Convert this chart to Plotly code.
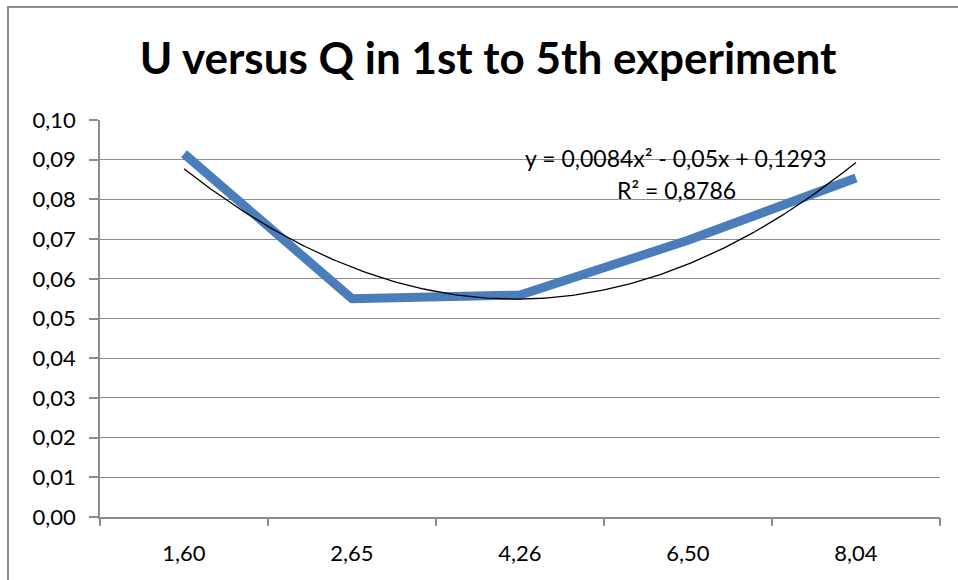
import plotly.graph_objects as go

# Flow rate categories (Q) and measured U values
q_labels = ["1,60", "2,65", "4,26", "6,50", "8,04"]
u_values = [0.0915, 0.0550, 0.0559, 0.0697, 0.0854]

# Polynomial trendline coefficients over category index x = 1..5
trend_a, trend_b, trend_c = 0.0084, -0.05, 0.1293
trend_eq = "y = 0,0084x² - 0,05x + 0,1293"
trend_r2 = "R² = 0,8786"

y_ticks = [i / 100 for i in range(11)]

idx = list(range(1, len(q_labels) + 1))
n_fine = 200
trend_x = [1 + 4 * k / (n_fine - 1) for k in range(n_fine)]
trend_y = [trend_a * x * x + trend_b * x + trend_c for x in trend_x]

FONT = "Lato"
GRID = "#8c8c8c"
TICK_SIZE = 22
NOTE_SIZE = 23

fig = go.Figure()
fig.add_trace(go.Scatter(
    x=idx, y=u_values, mode="lines",
    line=dict(color="#4A7EBB", width=9),
    showlegend=False, hoverinfo="skip",
))
fig.add_trace(go.Scatter(
    x=trend_x, y=trend_y, mode="lines",
    line=dict(color="#000000", width=1.3),
    showlegend=False, hoverinfo="skip",
))
# invisible trace on the boundary-tick axis
fig.add_trace(go.Scatter(x=[0.5, 5.5], y=[0, 0], xaxis="x2", mode="lines",
                         line=dict(width=0), showlegend=False, hoverinfo="skip"))

fig.update_layout(
    width=958, height=580,
    margin=dict(l=100, r=18, t=120, b=63),
    paper_bgcolor="white", plot_bgcolor="white",
    separators=",.",
    font=dict(family=FONT, color="#000000", size=TICK_SIZE),
    title=dict(text="<b>U versus Q in 1st to 5th experiment</b>",
               x=488 / 958, xref="container", xanchor="center",
               y=1 - 59 / 580, yanchor="middle", yref="container",
               font=dict(family=FONT, size=44, color="#000000")),
    xaxis=dict(range=[0.5, 5.5], tickvals=idx, ticktext=q_labels,
               showgrid=False, zeroline=False, ticks="",
               showline=True, linecolor=GRID, linewidth=1.5,
               tickfont=dict(size=TICK_SIZE), ticklabelstandoff=16),
    xaxis2=dict(range=[0.5, 5.5], overlaying="x", side="bottom",
                tickvals=[i + 0.5 for i in range(0, 6)],
                showticklabels=False, ticks="outside", ticklen=8,
                tickcolor=GRID, tickwidth=1.5, showgrid=False,
                zeroline=False, showline=False),
    yaxis=dict(range=[0, 0.1], tickvals=y_ticks, tickformat=".2f",
               showgrid=True, gridcolor=GRID, gridwidth=1.2,
               zeroline=False, showline=True, linecolor=GRID, linewidth=1.5,
               ticks="outside", ticklen=9, tickcolor=GRID, tickwidth=1.5,
               tickfont=dict(size=TICK_SIZE), ticklabelstandoff=9),
    shapes=[dict(type="rect", xref="paper", yref="paper",
                 x0=-92 / 840, x1=1.2, y0=-0.5, y1=1 + 113 / 397,
                 line=dict(color="#8c8c8c", width=2), layer="below")],
    annotations=[
        dict(text=trend_eq, xref="paper", yref="paper",
             x=(676 - 100) / 840, y=(517 - 158) / 397,
             xanchor="center", yanchor="middle", showarrow=False,
             font=dict(family=FONT, size=NOTE_SIZE)),
        dict(text=trend_r2, xref="paper", yref="paper",
             x=(676 - 100) / 840, y=(517 - 190) / 397,
             xanchor="center", yanchor="middle", showarrow=False,
             font=dict(family=FONT, size=NOTE_SIZE)),
    ],
)

fig.write_html("out.html")
